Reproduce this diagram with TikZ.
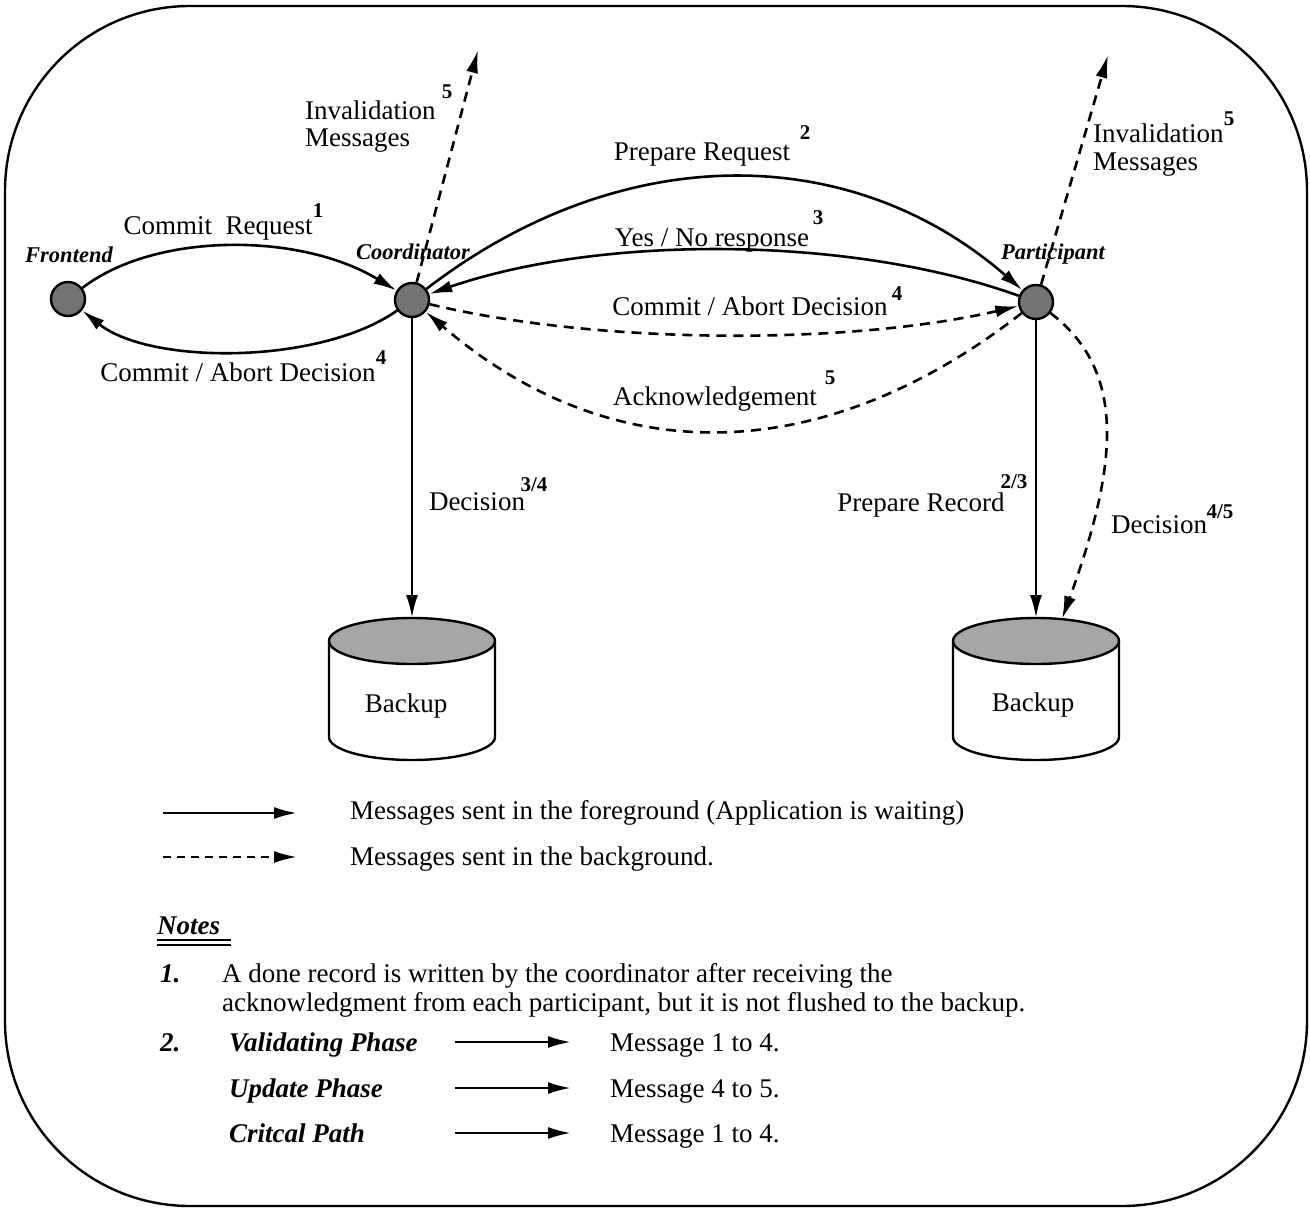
\documentclass[tikz,border=0pt]{standalone}
\usepackage{fontspec}
\setmainfont{Liberation Serif}
\usetikzlibrary{arrows.meta}
\begin{document}
\begin{tikzpicture}[x=1pt,y=-1pt,
  arr/.style={-{Latex[length=23pt,width=12pt]}, line width=2.6pt},
  dsh/.style={dash pattern=on 10pt off 7pt},
  site/.style={circle, draw, line width=2.4pt, fill=black!55, minimum size=34pt, inner sep=0pt},
  lbl/.style={font=\fontsize{27}{29}\selectfont, inner sep=0pt, anchor=base},
  lblw/.style={lbl, anchor=base west, align=left},
  sitelbl/.style={font=\fontsize{22.5}{24}\selectfont\bfseries\itshape, inner sep=0pt, anchor=base},
  sup/.style={font=\fontsize{21}{21}\selectfont\bfseries, inner sep=0pt, anchor=base},
  note/.style={font=\fontsize{27}{29}\selectfont\bfseries\itshape, inner sep=0pt, anchor=base west}]
\useasboundingbox (0,0) rectangle (1310,1209);

% outer frame
\draw[line width=2.4pt, rounded corners=185pt] (5,6) rectangle (1307,1206);

% sites
\node[site] (fe) at (68,299) {};
\node[site] (co) at (412,300) {};
\node[site] (pa) at (1036,302) {};
\node[sitelbl] (fel) at (69,263) {Frontend};
\node[sitelbl] (col) at (413,260) {Coordinator};
\node[sitelbl] (pal) at (1053,260) {Participant};

% backup disks
\foreach \cx/\nm in {412/bka, 1036/bkb}{
  \draw[line width=2.4pt, fill=white] (\cx-83,641) -- (\cx-83,737)
     arc[start angle=180, end angle=0, x radius=83, y radius=23] -- (\cx+83,641);
  \draw[line width=2.4pt, fill=black!35] (\cx,641) ellipse[x radius=83, y radius=23];
}
\coordinate (bkatop) at (412,618);
\coordinate (bkbtop) at (1036,618);
\coordinate (bkbdec) at (1062,619);
\node[lbl] (bka) at (406,712) {Backup};
\node[lbl] (bkb) at (1033,711) {Backup};

% invalidation end points
\coordinate (inva) at (478,50);
\coordinate (invb) at (1108,55);

% frontend <-> coordinator
\draw[arr] (fe) .. controls (155,232) and (300,232) .. (co);
\draw[arr] (co) .. controls (320,365) and (150,365) .. (fe);
% coordinator <-> participant
\draw[arr] (co) .. controls (620,140) and (850,140) .. (pa);
\draw[arr] (pa) .. controls (850,235) and (600,235) .. (co);
\draw[arr, dsh] (co) .. controls (600,345) and (850,345) .. (pa);
\draw[arr, dsh] (pa) .. controls (820,470) and (610,470) .. (co);
% invalidation messages
\draw[arr, dsh] (co) -- (inva);
\draw[arr, dsh] (pa) -- (invb);
% writes to backups
\draw[arr] (co) -- (bkatop);
\draw[arr] (pa) -- (bkbtop);
\draw[arr, dsh] (pa) .. controls (1125,370) and (1120,460) .. (bkbdec);

% message labels
\node[lbl] (l1) at (218,235) {Commit\ \ Request};
\node[sup] at (318,218) {1};
\node[lbl] (l4a) at (238,381) {Commit / Abort Decision};
\node[sup] at (381,364) {4};
\node[lblw] (l5a) at (305,120) {Invalidation};
\node[lblw] (l5b) at (305,147) {Messages};
\node[sup] at (447,99) {5};
\node[lbl] (l2) at (702,161) {Prepare Request};
\node[sup] at (805,140) {2};
\node[lbl] (l3) at (712,247) {Yes / No response};
\node[sup] at (818,225) {3};
\node[lbl] (l4b) at (750,316) {Commit / Abort Decision};
\node[sup] at (897,301) {4};
\node[lbl] (l5c) at (715,405) {Acknowledgement};
\node[sup] at (830,384) {5};
\node[lbl] (l34) at (477,510) {Decision};
\node[sup] at (534,491) {3/4};
\node[lbl] (l23) at (921,511) {Prepare Record};
\node[sup] at (1014,488) {2/3};
\node[lbl] (l45) at (1159,533) {Decision};
\node[sup] at (1220,518) {4/5};
\node[lblw] (l5d) at (1093,143) {Invalidation};
\node[lblw] (l5e) at (1093,171) {Messages};
\node[sup] at (1229,126) {5};

% legend
\coordinate (lga) at (163,813);
\coordinate (lgb) at (297,813);
\coordinate (lgc) at (163,857);
\coordinate (lgd) at (297,857);
\draw[arr] (lga) -- (lgb);
\draw[arr, dash pattern=on 8pt off 6pt] (lgc) -- (lgd);
\node[lblw] (lgt1) at (350,819) {Messages sent in the foreground (Application is waiting)};
\node[lblw] (lgt2) at (350,865) {Messages sent in the background.};

% notes
\node[note] (notes) at (157,934) {Notes};
\draw[line width=1.8pt] (157,940) -- (231,940);
\draw[line width=1.8pt] (157,945) -- (231,945);
\node[note] (n1) at (160,982) {1.};
\node[lblw] (n1a) at (222,982) {A done record is written by the coordinator after receiving the};
\node[lblw] (n1b) at (222,1011) {acknowledgment from each participant, but it is not flushed to the backup.};
\node[note] (n2) at (160,1051) {2.};
\foreach \yy/\ph/\msg/\nm in {1051/Validating Phase/Message 1 to 4./va, 1097/Update Phase/Message 4 to 5./up, 1142/Critcal Path/Message 1 to 4./cp}{
  \node[note] (\nm) at (229,\yy) {\ph};
  \coordinate (\nm a) at (455,\yy-9);
  \coordinate (\nm b) at (571,\yy-9);
  \draw[arr] (\nm a) -- (\nm b);
  \node[lblw] (\nm m) at (610,\yy) {\msg};
}
\end{tikzpicture}
\end{document}
